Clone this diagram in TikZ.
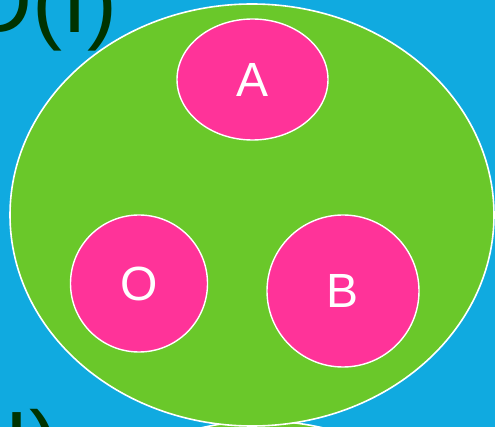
\documentclass[tikz,border=0pt]{standalone}
\usepackage{fontspec}
\setmainfont{Liberation Sans}
\usetikzlibrary{shapes.geometric}

\definecolor{skyblue}{HTML}{10AAE0}
\definecolor{setgreen}{HTML}{6AC82A}
\definecolor{elempink}{HTML}{FF3399}
\definecolor{labelgreen}{HTML}{003300}

\tikzset{
  setbox/.style={ellipse, draw=white, line width=1.6pt, fill=setgreen,
    inner sep=0pt},
  elembox/.style={ellipse, draw=white, line width=1.4pt, fill=elempink,
    inner sep=0pt, text=white, font=\fontsize{48}{48}\selectfont},
  setlabel/.style={text=labelgreen, inner sep=0pt,
    font=\fontsize{90}{90}\selectfont}
}

\begin{document}
\begin{tikzpicture}[x=1pt, y=-1pt]
  \useasboundingbox (0,0) rectangle (495,427);
  \fill[skyblue] (0,0) rectangle (495,427);
  \clip (0,0) rectangle (495,427);

  % set labels
  \node[setlabel, anchor=base east] (labelI) at (118, 33) {D(I)};
  \node[setlabel, anchor=base east] (labelII) at (60, 474) {D(II)};

  % next set, mostly off the page
  \node[setbox, minimum width=480pt, minimum height=422pt] (setII) at (262, 632) {};

  % the set and its elements
  \node[setbox, minimum width=484pt, minimum height=422pt] (setI) at (252, 215) {};
  \node[elembox, minimum width=151pt, minimum height=121pt] (A) at (252.5, 79.5) {A};
  \node[elembox, minimum width=137pt, minimum height=137pt] (O) at (139, 283.5) {O};
  \node[elembox, minimum width=152pt, minimum height=152pt] (B) at (343, 291) {B};
\end{tikzpicture}
\end{document}
